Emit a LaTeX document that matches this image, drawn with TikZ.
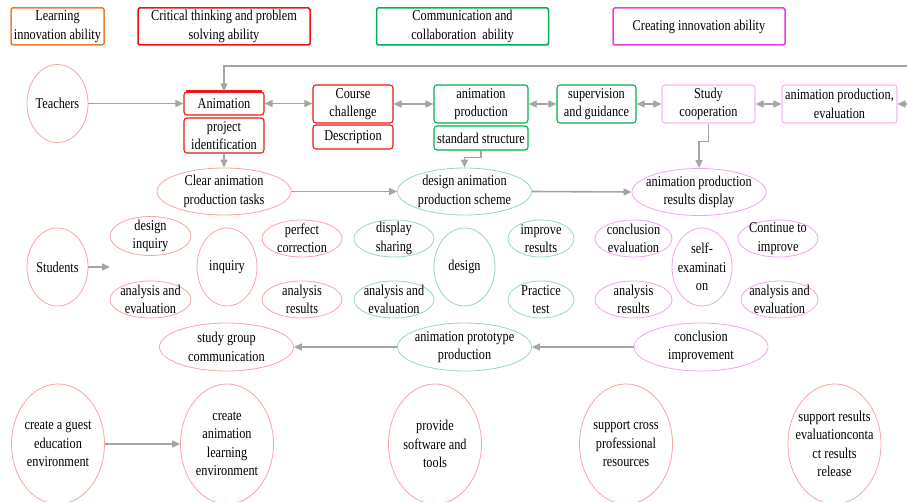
\documentclass[tikz,border=0pt]{standalone}
\usepackage{fontspec}
\setmainfont{Liberation Serif}[FakeStretch=0.82]
\usetikzlibrary{shapes.geometric,arrows.meta}
\definecolor{cOr}{RGB}{237,125,49}
\definecolor{cRd}{RGB}{240,20,20}
\definecolor{cGn}{RGB}{0,176,80}
\definecolor{cMg}{RGB}{235,60,220}
\definecolor{cPk}{RGB}{245,185,240}
\definecolor{eRd}{RGB}{248,165,165}
\definecolor{eGn}{RGB}{150,215,180}
\definecolor{ePk}{RGB}{238,165,235}
\definecolor{cAr}{RGB}{165,165,165}
\newcommand\myell[6]{\node[ell,draw=#5,minimum width=#3pt,minimum height=#4pt] (#1) at (#2) {}; \node[txt] (#1t) at (#1) {#6};}
\begin{document}
\begin{tikzpicture}[x=1pt,y=-1pt,
  font=\fontsize{15}{18.5}\selectfont,
  txt/.style={align=center,inner sep=0pt},
  box/.style={draw,rounded corners=3pt,align=center,inner sep=0pt,line width=1.1pt},
  leg/.style={box,line width=1.5pt,rounded corners=1.5pt},
  ell/.style={draw,ellipse,inner sep=0pt,line width=0.8pt},
  arr/.style={draw=cAr,line width=1.6pt,-{Triangle[length=8pt,width=7pt]}},
  darr/.style={draw=cAr,line width=1.6pt,{Triangle[length=8pt,width=7pt]}-{Triangle[length=8pt,width=7pt]}},
]
\useasboundingbox (0,0) rectangle (907,502);
\clip (0,0) rectangle (907,502);
% legend
\node[leg,draw=cOr,minimum width=93pt,minimum height=37pt] (l1) at (57.5,26.5) {Learning\\innovation ability};
\node[leg,draw=cRd,minimum width=172pt,minimum height=37pt] (l2) at (224,26.5) {Critical thinking and problem\\solving ability};
\node[leg,draw=cGn,minimum width=172pt,minimum height=37pt] (l3) at (462.5,26.5) {Communication and\\collaboration\ \ ability};
\node[leg,draw=cMg,minimum width=172pt,minimum height=37pt] (l4) at (699,26.5) {Creating innovation ability};
% teachers row
\myell{teach}{57.5,103.5}{61}{78}{eRd}{Teachers}
\node[box,draw=cRd,minimum width=80pt,minimum height=23pt] (anim) at (224,103.5) {Animation};
\draw[cRd,line width=2.2pt] ([xshift=3pt]anim.north west) -- ([xshift=-3pt]anim.north east);
\node[box,draw=cRd,minimum width=80pt,minimum height=35pt] (projid) at (224,135.5) {project\\identification};
\node[box,draw=cRd,minimum width=80pt,minimum height=38pt] (course) at (353,104) {Course\\challenge};
\node[box,draw=cRd,minimum width=80pt,minimum height=24pt] (desc) at (353,137) {Description};
\node[box,draw=cGn,minimum width=94pt,minimum height=38pt] (ap) at (481,104) {animation\\production};
\node[box,draw=cGn,minimum width=94pt,minimum height=24pt] (ss) at (481,138) {standard structure};
\node[box,draw=cGn,minimum width=79pt,minimum height=38pt] (sup) at (596.5,104) {supervision\\and guidance};
\node[box,draw=cPk,minimum width=93pt,minimum height=38pt] (study) at (708.5,104) {Study\\cooperation};
\node[box,draw=cPk,minimum width=115pt,minimum height=38pt] (ape) at (839.5,104) {animation production,\\evaluation};
% row 1 ellipses
\myell{ca}{224,191.5}{134}{47}{eRd}{Clear animation\\production tasks}
\myell{dps}{464.5,191.5}{134}{47}{eGn}{design animation\\production scheme}
\myell{rd}{699,192}{134}{47}{ePk}{animation production\\results display}
% row 2 ellipses
\myell{stu}{57.5,267}{61}{78}{eRd}{Students}
\myell{di}{150.5,236}{81}{39}{eRd}{design\\inquiry}
\myell{aea}{150.5,299.5}{81}{37}{eRd}{analysis and\\evaluation}
\myell{inq}{227,267}{60}{78}{eRd}{inquiry}
\myell{pc}{302,238.5}{80}{37}{eRd}{perfect\\correction}
\myell{ara}{302,299.5}{80}{37}{eRd}{analysis\\results}
\myell{ds}{394,238.5}{80}{37}{eGn}{display\\sharing}
\myell{aeb}{394,299.5}{80}{37}{eGn}{analysis and\\evaluation}
\myell{des}{464.5,267}{61}{78}{eGn}{design}
\myell{ir}{541,238.5}{66}{37}{eGn}{improve\\results}
\myell{pt}{541,299.5}{66}{37}{eGn}{Practice\\test}
\myell{ce}{633.5,238.5}{77}{37}{ePk}{conclusion\\evaluation}
\myell{arb}{633.5,299.5}{77}{37}{ePk}{analysis\\results}
\myell{se}{702,267}{60}{78}{ePk}{self-\\examinati\\on}
\myell{ci}{778,238.5}{80}{37}{ePk}{Continue to\\improve}
\myell{aec}{779.5,299.5}{77}{37}{ePk}{analysis and\\evaluation}
% row 3 ellipses
\myell{sg}{226.5,347}{134}{48}{eRd}{study group\\communication}
\myell{app}{464.5,347}{134}{48}{eGn}{animation prototype\\production}
\myell{cim}{701,347}{134}{48}{ePk}{conclusion\\improvement}
% bottom ellipses
\myell{ga}{58,444}{93}{120}{eRd}{create a guest\\education\\environment}
\myell{gb}{227,444}{93}{120}{eRd}{create\\animation\\learning\\environment}
\myell{gc}{435,444}{93}{120}{eRd}{provide\\software and\\tools}
\myell{gd}{626,444}{93}{120}{eRd}{support cross\\professional\\resources}
\myell{ge}{834.5,444}{93}{120}{eRd}{support results\\evaluationconta\\ct results\\release}
% connectors
\coordinate (tr) at (910,66);
\draw[arr] (tr) -| (anim.north);
\draw[arr] (teach.east) -- (anim.west);
\draw[darr] (anim.east) -- (course.west |- anim.east);
\draw[darr] (course.east) -- (ap.west);
\draw[darr] (ap.east) -- (sup.west);
\draw[darr] (sup.east) -- (study.west);
\draw[darr] (study.east) -- (ape.west);
\coordinate (rr) at (916,104);
\draw[darr] (ape.east) -- (rr);
\draw[arr] (projid.south) -- (ca.north);
\draw[arr] (ss.south) -- ++(0,7) -| (dps.north);
\draw[arr] (study.south) -- ++(0,18) -| (rd.north);
\draw[arr] (ca.east) -- (dps.west);
\draw[arr] (dps.east) -- (rd.west);
\coordinate (sa) at (110,267);
\draw[arr] (stu.east) -- (sa);
\draw[arr] (cim.west) -- (app.east);
\draw[arr] (app.west) -- (sg.east);
\draw[arr] (ga.east) -- (gb.west);
\end{tikzpicture}
\end{document}
